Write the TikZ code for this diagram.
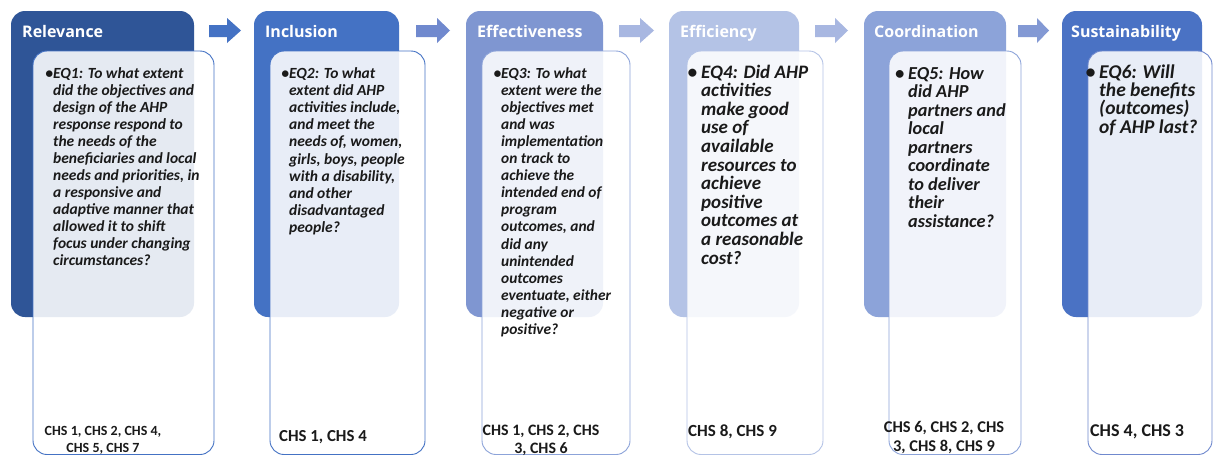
\documentclass[tikz,border=0pt]{standalone}
\usepackage{fontspec}
\setmainfont{Carlito}
\newfontfamily\hdrfont{Open Sans}

\definecolor{cRel}{HTML}{2F5597}
\definecolor{cInc}{HTML}{4472C4}
\definecolor{cEff}{HTML}{7F96D1}
\definecolor{cEfc}{HTML}{B4C3E6}
\definecolor{cCoo}{HTML}{8CA3D9}
\definecolor{cSus}{HTML}{4A72C4}
\definecolor{aOne}{HTML}{4472C4}
\definecolor{aTwo}{HTML}{7089CE}
\definecolor{aThree}{HTML}{A8B7E1}
\definecolor{aFour}{HTML}{A8B7E1}
\definecolor{aFive}{HTML}{8399D4}
\definecolor{ink}{HTML}{1A1A1A}

\newcommand{\qfont}[2]{\bfseries\itshape\fontsize{#1}{#2}\selectfont}
\newcommand{\cfont}[2]{\bfseries\fontsize{#1}{#2}\selectfont}

\tikzset{
  hdrbox/.style={draw=none, rounded corners=14pt, inner sep=0pt},
  qbox/.style={draw=#1, line width=0.9pt, rounded corners=14pt, fill=white, fill opacity=0.88, inner sep=0pt},
  hdrtext/.style={anchor=base west, inner sep=0pt, text=white, font=\hdrfont\bfseries\fontsize{16}{19}\selectfont},
  % multi-line texts are placed by the baseline of their last line
  qtext/.style={anchor=base west, inner sep=0pt, align=left, text=ink},
  chstext/.style={anchor=base, inner sep=0pt, align=center, text=ink},
}

% block arrow from x=#1 (tail) to x=#3 (tip), head starting at #2
\newcommand{\blockarrow}[4]{%
  \fill[#4] (#1,25) -- (#2,25) -- (#2,18) -- (#3,30.5) -- (#2,43) -- (#2,37) -- (#1,37) -- cycle;}

\begin{document}
\begin{tikzpicture}[x=1pt,y=-1pt]
\useasboundingbox (0,0) rectangle (1213,456);
\fill[white] (0,0) rectangle (1213,456);

% arrows between the criteria
\blockarrow{209}{227}{241}{aOne}
\blockarrow{416}{437}{450}{aTwo}
\blockarrow{619}{640}{654}{aThree}
\blockarrow{815}{835}{848}{aFour}
\blockarrow{1018}{1037}{1049}{aFive}

% criterion header boxes
\node[hdrbox, fill=cRel, minimum width=183pt, minimum height=306pt] (relbox) at (102.5,164) {};
\node[hdrbox, fill=cInc, minimum width=145pt, minimum height=306pt] (incbox) at (326.5,164) {};
\node[hdrbox, fill=cEff, minimum width=137pt, minimum height=306pt] (effbox) at (534.5,164) {};
\node[hdrbox, fill=cEfc, minimum width=130pt, minimum height=306pt] (efcbox) at (734,164) {};
\node[hdrbox, fill=cCoo, minimum width=142pt, minimum height=306pt] (coobox) at (935,164) {};
\node[hdrbox, fill=cSus, minimum width=140pt, minimum height=306pt] (susbox) at (1132,164) {};

% criterion titles
\node[hdrtext] (reltitle) at (22,37) {Relevance};
\node[hdrtext] (inctitle) at (265,37) {Inclusion};
\node[hdrtext] (efftitle) at (477,37) {Effectiveness};
\node[hdrtext] (efctitle) at (680,37) {Efficiency};
\node[hdrtext] (cootitle) at (874,37) {Coordination};
\node[hdrtext] (sustitle) at (1071,37) {Sustainability};

% question panels
\node[qbox=cInc, minimum width=181pt, minimum height=403.5pt] (relq) at (123.5,252.75) {};
\node[qbox=cInc, minimum width=155pt, minimum height=403.5pt] (incq) at (347.5,252.75) {};
\node[qbox=cCoo, minimum width=148pt, minimum height=403.5pt] (effq) at (556,252.75) {};
\node[qbox=cEfc, minimum width=136pt, minimum height=403.5pt] (efcq) at (755,252.75) {};
\node[qbox=cCoo, minimum width=132pt, minimum height=403.5pt] (cooq) at (955,252.75) {};
\node[qbox=aTwo, minimum width=124pt, minimum height=403.5pt] (susq) at (1150,252.75) {};

% evaluation questions (first baseline near y=78)
\node[qtext, font=\qfont{15.5}{17}] (relt) at (53,265) {\llap{•}EQ1: To what extent\\did the objectives and\\design of the AHP\\response respond to\\the needs of the\\beneficiaries and local\\needs and priorities, in\\a responsive and\\adaptive manner that\\allowed it to shift\\focus under changing\\circumstances?};
\node[qtext, font=\qfont{15.5}{17.2}] (inct) at (289,232.8) {\llap{•}EQ2: To what\\extent did AHP\\activities include,\\and meet the\\needs of, women,\\girls, boys, people\\with a disability,\\and other\\disadvantaged\\people?};
\node[qtext, font=\qfont{15.4}{17.1}] (efft) at (501,334.5) {\llap{•}EQ3: To what\\extent were the\\objectives met\\and was\\implementation\\on track to\\achieve the\\intended end of\\program\\outcomes, and\\did any\\unintended\\outcomes\\eventuate, either\\negative or\\positive?};
\node[qtext, font=\qfont{19}{18.6}] (efct) at (701,264) {\llap{•\hspace{4pt}}EQ4: Did AHP\\activities\\make good\\use of\\available\\resources to\\achieve\\positive\\outcomes at\\a reasonable\\cost?};
\node[qtext, font=\qfont{18.3}{18.5}] (coot) at (908,227) {\llap{•\hspace{4pt}}EQ5: How\\did AHP\\partners and\\local\\partners\\coordinate\\to deliver\\their\\assistance?};
\node[qtext, font=\qfont{19.5}{18.3}] (sust) at (1099,133) {\llap{•\hspace{4pt}}EQ6: Will\\the benefits\\(outcomes)\\of AHP last?};

% core humanitarian standards
\node[chstext, font=\cfont{14}{17}] (relc) at (103,452) {CHS 1, CHS 2, CHS 4,\\CHS 5, CHS 7};
\node[chstext, font=\cfont{16.8}{18}, anchor=base west] (incc) at (279,441) {CHS 1, CHS 4};
\node[chstext, font=\cfont{15.9}{18}] (effc) at (541,453) {CHS 1, CHS 2, CHS\\3, CHS 6};
\node[chstext, font=\cfont{17}{18}, anchor=base west] (efcc) at (688,436) {CHS 8, CHS 9};
\node[chstext, font=\cfont{16.4}{19}] (cooc) at (944,451) {CHS 6, CHS 2, CHS\\3, CHS 8, CHS 9};
\node[chstext, font=\cfont{18}{18}, anchor=base west] (susc) at (1090,436) {CHS 4, CHS 3};
\end{tikzpicture}
\end{document}
